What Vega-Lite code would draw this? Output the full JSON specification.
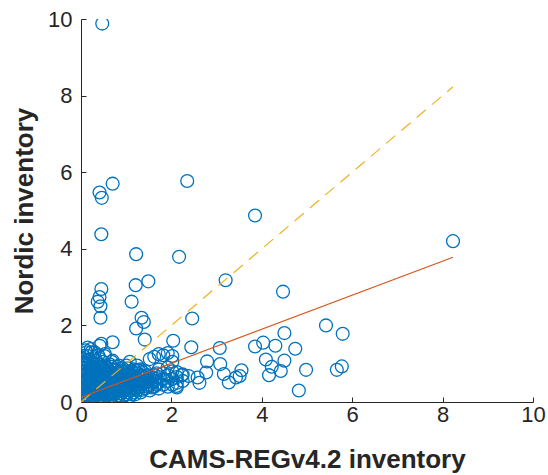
{
  "$schema": "https://vega.github.io/schema/vega-lite/v6.json",
  "autosize": {"type": "none"},
  "padding": {"left": 81, "top": 19, "right": 15, "bottom": 73},
  "width": 452,
  "height": 383,
  "background": "white",
  "config": {
    "view": {"stroke": null},
    "font": "Liberation Sans",
    "axis": {
      "domainColor": "#262626", "tickColor": "#262626", "labelColor": "#262626", "titleColor": "#262626",
      "grid": false, "labelFont": "Liberation Sans", "titleFont": "Liberation Sans",
      "labelFontSize": 22, "titleFontSize": 26, "titleFontWeight": "bold",
      "domainWidth": 1, "tickWidth": 1, "tickSize": -5, "labelFlush": false, "labelOverlap": false
    }
  },
  "datasets": {
    "pts": [
      {"x":0.47,"y":9.88},{"x":0.41,"y":5.47},{"x":0.46,"y":5.33},{"x":0.7,"y":5.7},{"x":2.35,"y":5.77},
      {"x":0.45,"y":4.38},{"x":1.22,"y":3.86},{"x":2.17,"y":3.79},{"x":3.85,"y":4.87},{"x":8.23,"y":4.2},
      {"x":3.2,"y":3.18},{"x":1.49,"y":3.15},{"x":1.21,"y":3.05},{"x":4.47,"y":2.88},{"x":0.45,"y":2.95},
      {"x":0.41,"y":2.74},{"x":0.37,"y":2.62},{"x":0.43,"y":2.5},{"x":0.43,"y":2.2},{"x":1.12,"y":2.62},
      {"x":1.34,"y":2.2},{"x":1.39,"y":2.09},{"x":1.22,"y":1.92},{"x":1.41,"y":1.63},{"x":2.46,"y":2.18},
      {"x":5.42,"y":2.0},{"x":5.79,"y":1.78},{"x":4.5,"y":1.8},{"x":2.04,"y":1.6},{"x":2.44,"y":1.43},
      {"x":3.07,"y":1.41},{"x":0.7,"y":1.56},{"x":3.85,"y":1.45},{"x":4.03,"y":1.55},{"x":4.3,"y":1.47},
      {"x":4.74,"y":1.39},{"x":4.09,"y":1.11},{"x":4.5,"y":1.08},{"x":4.22,"y":0.92},{"x":4.42,"y":0.81},
      {"x":4.16,"y":0.7},{"x":4.98,"y":0.84},{"x":5.66,"y":0.84},{"x":5.77,"y":0.93},{"x":4.82,"y":0.3},
      {"x":2.79,"y":1.06},{"x":2.77,"y":0.77},{"x":3.08,"y":0.99},{"x":3.16,"y":0.73},{"x":3.27,"y":0.51},
      {"x":3.43,"y":0.64},{"x":3.55,"y":0.83},{"x":3.51,"y":0.68},{"x":2.58,"y":0.64},{"x":2.62,"y":0.5},
      {"x":2.38,"y":0.68},{"x":2.23,"y":0.7},{"x":2.11,"y":0.42},
      {"x":0.1,"y":1.35},{"x":0.23,"y":1.3},{"x":0.41,"y":1.47},{"x":0.53,"y":1.25},{"x":0.04,"y":0.98},{"x":0.14,"y":1.1},{"x":0.7,"y":1.08},
      {"x":0.02,"y":0.0},{"x":0.02,"y":0.15},{"x":0.02,"y":0.3},{"x":0.02,"y":0.45},{"x":0.02,"y":0.6},{"x":0.02,"y":0.8},{"x":0.02,"y":1.0},
      {"x":0.08,"y":0.05},{"x":0.08,"y":0.2},{"x":0.08,"y":0.35},{"x":0.08,"y":0.5},{"x":0.08,"y":0.7},{"x":0.08,"y":0.9},{"x":0.08,"y":1.1},
      {"x":0.15,"y":0.1},{"x":0.15,"y":0.25},{"x":0.15,"y":0.4},{"x":0.15,"y":0.55},{"x":0.15,"y":0.75},{"x":0.15,"y":0.95},{"x":0.15,"y":1.2},{"x":0.15,"y":1.42},
      {"x":0.22,"y":0.05},{"x":0.22,"y":0.2},{"x":0.22,"y":0.35},{"x":0.22,"y":0.5},{"x":0.22,"y":0.65},{"x":0.22,"y":0.85},{"x":0.22,"y":1.05},{"x":0.22,"y":1.38},
      {"x":0.3,"y":0.1},{"x":0.3,"y":0.25},{"x":0.3,"y":0.4},{"x":0.3,"y":0.55},{"x":0.3,"y":0.7},{"x":0.3,"y":0.9},{"x":0.3,"y":1.3},
      {"x":0.38,"y":0.05},{"x":0.38,"y":0.2},{"x":0.38,"y":0.35},{"x":0.38,"y":0.5},{"x":0.38,"y":0.65},{"x":0.38,"y":0.8},{"x":0.38,"y":1.0},{"x":0.38,"y":1.22},
      {"x":0.45,"y":0.12},{"x":0.45,"y":0.28},{"x":0.45,"y":0.42},{"x":0.45,"y":0.58},{"x":0.45,"y":0.72},{"x":0.45,"y":0.9},{"x":0.45,"y":1.52},
      {"x":0.52,"y":0.0},{"x":0.52,"y":0.18},{"x":0.52,"y":0.32},{"x":0.52,"y":0.48},{"x":0.52,"y":0.62},{"x":0.52,"y":0.78},{"x":0.52,"y":0.95},{"x":0.52,"y":1.2},
      {"x":0.6,"y":0.1},{"x":0.6,"y":0.25},{"x":0.6,"y":0.4},{"x":0.6,"y":0.55},{"x":0.6,"y":0.7},{"x":0.6,"y":0.85},
      {"x":0.68,"y":0.15},{"x":0.68,"y":0.3},{"x":0.68,"y":0.45},{"x":0.68,"y":0.6},{"x":0.68,"y":0.75},{"x":0.68,"y":0.92},{"x":0.68,"y":1.05},
      {"x":0.76,"y":0.1},{"x":0.76,"y":0.25},{"x":0.76,"y":0.4},{"x":0.76,"y":0.55},{"x":0.76,"y":0.7},{"x":0.76,"y":0.85},
      {"x":0.84,"y":0.18},{"x":0.84,"y":0.32},{"x":0.84,"y":0.48},{"x":0.84,"y":0.62},{"x":0.84,"y":0.78},{"x":0.84,"y":0.95},
      {"x":0.92,"y":0.12},{"x":0.92,"y":0.28},{"x":0.92,"y":0.42},{"x":0.92,"y":0.58},{"x":0.92,"y":0.72},{"x":0.92,"y":0.88},
      {"x":1.0,"y":0.2},{"x":1.0,"y":0.35},{"x":1.0,"y":0.5},{"x":1.0,"y":0.65},{"x":1.0,"y":0.8},{"x":1.0,"y":0.95},
      {"x":1.08,"y":0.15},{"x":1.08,"y":0.3},{"x":1.08,"y":0.45},{"x":1.08,"y":0.6},{"x":1.08,"y":0.75},{"x":1.08,"y":1.05},
      {"x":1.16,"y":0.25},{"x":1.16,"y":0.4},{"x":1.16,"y":0.55},{"x":1.16,"y":0.7},{"x":1.16,"y":0.85},
      {"x":1.24,"y":0.3},{"x":1.24,"y":0.45},{"x":1.24,"y":0.6},{"x":1.24,"y":0.75},{"x":1.24,"y":0.95},
      {"x":1.32,"y":0.25},{"x":1.32,"y":0.4},{"x":1.32,"y":0.55},{"x":1.32,"y":0.7},{"x":1.32,"y":0.85},
      {"x":1.42,"y":0.35},{"x":1.42,"y":0.5},{"x":1.42,"y":0.65},{"x":1.42,"y":0.8},
      {"x":1.52,"y":0.3},{"x":1.52,"y":0.45},{"x":1.52,"y":0.6},{"x":1.52,"y":1.12},
      {"x":1.62,"y":0.4},{"x":1.62,"y":0.55},{"x":1.62,"y":0.7},{"x":1.62,"y":1.18},
      {"x":1.72,"y":0.35},{"x":1.72,"y":0.5},{"x":1.72,"y":0.65},{"x":1.72,"y":0.85},{"x":1.72,"y":1.25},
      {"x":1.82,"y":0.45},{"x":1.82,"y":0.6},{"x":1.82,"y":0.75},{"x":1.82,"y":1.22},
      {"x":1.92,"y":0.4},{"x":1.92,"y":0.55},{"x":1.92,"y":0.7},{"x":1.92,"y":0.9},{"x":1.92,"y":1.28},
      {"x":2.02,"y":0.45},{"x":2.02,"y":0.6},{"x":2.02,"y":0.8},{"x":2.02,"y":1.05},{"x":2.02,"y":1.2},
      {"x":2.12,"y":0.5},{"x":2.12,"y":0.65},{"x":2.12,"y":0.78},{"x":2.12,"y":0.38},
      {"x":2.25,"y":0.55},{"x":2.25,"y":0.72},
      {"x":0.05,"y":0.08},{"x":0.05,"y":0.25},{"x":0.05,"y":0.4},{"x":0.05,"y":0.55},{"x":0.05,"y":0.7},{"x":0.05,"y":0.88},{"x":0.05,"y":1.05},{"x":0.05,"y":1.2},
      {"x":0.12,"y":0.02},{"x":0.12,"y":0.18},{"x":0.12,"y":0.32},{"x":0.12,"y":0.48},{"x":0.12,"y":0.62},{"x":0.12,"y":0.82},{"x":0.12,"y":1.0},{"x":0.12,"y":1.3},
      {"x":0.19,"y":0.12},{"x":0.19,"y":0.3},{"x":0.19,"y":0.45},{"x":0.19,"y":0.6},{"x":0.19,"y":0.78},{"x":0.19,"y":0.92},{"x":0.19,"y":1.1},
      {"x":0.26,"y":0.0},{"x":0.26,"y":0.15},{"x":0.26,"y":0.28},{"x":0.26,"y":0.42},{"x":0.26,"y":0.6},{"x":0.26,"y":0.78},{"x":0.26,"y":0.98},{"x":0.26,"y":1.15},
      {"x":0.34,"y":0.18},{"x":0.34,"y":0.32},{"x":0.34,"y":0.48},{"x":0.34,"y":0.62},{"x":0.34,"y":0.82},{"x":0.34,"y":1.08},
      {"x":0.42,"y":0.1},{"x":0.42,"y":0.25},{"x":0.42,"y":0.38},{"x":0.42,"y":0.52},{"x":0.42,"y":0.68},{"x":0.42,"y":0.85},{"x":0.42,"y":1.12},
      {"x":0.49,"y":0.05},{"x":0.49,"y":0.22},{"x":0.49,"y":0.36},{"x":0.49,"y":0.52},{"x":0.49,"y":0.68},{"x":0.49,"y":0.85},{"x":0.49,"y":1.05},
      {"x":0.56,"y":0.15},{"x":0.56,"y":0.3},{"x":0.56,"y":0.45},{"x":0.56,"y":0.6},{"x":0.56,"y":0.75},{"x":0.56,"y":0.92},
      {"x":0.64,"y":0.05},{"x":0.64,"y":0.2},{"x":0.64,"y":0.35},{"x":0.64,"y":0.5},{"x":0.64,"y":0.65},{"x":0.64,"y":0.8},{"x":0.64,"y":0.98},
      {"x":0.72,"y":0.22},{"x":0.72,"y":0.38},{"x":0.72,"y":0.52},{"x":0.72,"y":0.68},{"x":0.72,"y":0.82},
      {"x":0.8,"y":0.15},{"x":0.8,"y":0.3},{"x":0.8,"y":0.45},{"x":0.8,"y":0.6},{"x":0.8,"y":0.75},{"x":0.8,"y":0.92},
      {"x":0.88,"y":0.22},{"x":0.88,"y":0.38},{"x":0.88,"y":0.52},{"x":0.88,"y":0.68},{"x":0.88,"y":0.82},
      {"x":0.96,"y":0.18},{"x":0.96,"y":0.32},{"x":0.96,"y":0.48},{"x":0.96,"y":0.62},{"x":0.96,"y":0.78},
      {"x":1.04,"y":0.25},{"x":1.04,"y":0.4},{"x":1.04,"y":0.55},{"x":1.04,"y":0.7},{"x":1.04,"y":0.88},
      {"x":1.12,"y":0.2},{"x":1.12,"y":0.35},{"x":1.12,"y":0.5},{"x":1.12,"y":0.65},{"x":1.12,"y":0.8},
      {"x":1.2,"y":0.2},{"x":1.2,"y":0.35},{"x":1.2,"y":0.5},{"x":1.2,"y":0.65},{"x":1.2,"y":0.82},
      {"x":1.28,"y":0.38},{"x":1.28,"y":0.52},{"x":1.28,"y":0.68},{"x":1.28,"y":0.82},
      {"x":1.36,"y":0.32},{"x":1.36,"y":0.48},{"x":1.36,"y":0.62},{"x":1.36,"y":0.78},
      {"x":1.47,"y":0.4},{"x":1.47,"y":0.55},{"x":1.47,"y":0.7},
      {"x":1.57,"y":0.38},{"x":1.57,"y":0.5},{"x":1.57,"y":0.65},
      {"x":1.67,"y":0.45},{"x":1.67,"y":0.6},{"x":1.67,"y":0.75}
    ],
    "lines": [
      {"x":0,"y":0,"s":"one"},{"x":8.23,"y":8.23,"s":"one"},
      {"x":0.02,"y":0.13,"s":"fit"},{"x":8.23,"y":3.78,"s":"fit"}
    ]
  },
  "layer": [
    {
      "data": {"name": "pts"},
      "mark": {"type": "point", "filled": false, "color": "#0072BD", "strokeWidth": 1.3, "size": 165, "opacity": 1, "clip": true},
      "encoding": {
        "x": {"field": "x", "type": "quantitative", "scale": {"domain": [0, 10], "nice": false},
              "axis": {"values": [0,2,4,6,8,10], "title": "CAMS-REGv4.2 inventory", "labelPadding": 7, "titlePadding": 21}},
        "y": {"field": "y", "type": "quantitative", "scale": {"domain": [0, 10], "nice": false},
              "axis": {"values": [0,2,4,6,8,10], "title": "Nordic inventory", "labelPadding": 14, "titlePadding": 10}}
      }
    },
    {
      "data": {"name": "lines"},
      "transform": [{"filter": "datum.s === 'one'"}],
      "mark": {"type": "line", "color": "#EDB120", "strokeWidth": 1.2, "strokeDash": [12, 8]},
      "encoding": {"x": {"field": "x", "type": "quantitative"}, "y": {"field": "y", "type": "quantitative"}}
    },
    {
      "data": {"name": "lines"},
      "transform": [{"filter": "datum.s === 'fit'"}],
      "mark": {"type": "line", "color": "#D95319", "strokeWidth": 1.2},
      "encoding": {"x": {"field": "x", "type": "quantitative"}, "y": {"field": "y", "type": "quantitative"}}
    }
  ]
}
